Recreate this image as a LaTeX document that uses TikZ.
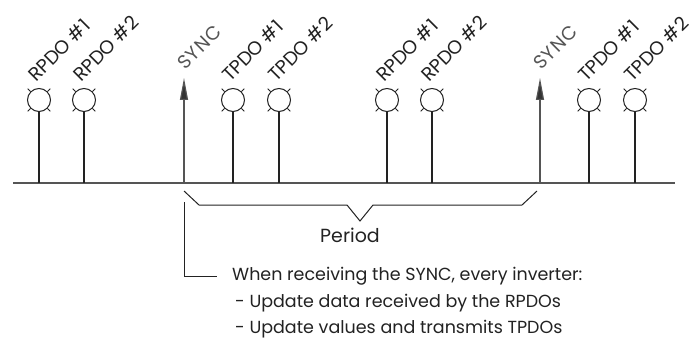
\documentclass[tikz,border=0pt]{standalone}
\usepackage{fontspec}
\setmainfont{Poppins}
\usetikzlibrary{arrows.meta}
\definecolor{ink}{HTML}{222222}
\definecolor{syncgray}{HTML}{555555}
\definecolor{basegray}{HTML}{555555}
\tikzset{
  pdo/.style={circle,draw=ink,line width=1pt,fill=white,minimum size=23pt,inner sep=0pt},
  stem/.style={draw=ink,line width=1.2pt},
  lbl/.style={rotate=45,anchor=base west,inner sep=0pt,text=ink,font=\fontsize{19}{19}\selectfont},
  synclbl/.style={rotate=45,anchor=base west,inner sep=0pt,text=syncgray,font=\fontsize{19}{19}\selectfont\addfontfeature{LetterSpace=6}},
  syncarrow/.style={draw=syncgray,line width=1.2pt,-{Triangle[length=22pt,width=8pt,fill=syncgray!60!black]}},
  body/.style={anchor=base west,inner sep=0pt,text=ink,font=\fontsize{17.5}{17.5}\selectfont},
  tick/.style={draw=ink,line width=0.8pt}
}
\newcommand{\pdoat}[3]{% name, x, label text
  \node[pdo] (#1) at (#2,100) {};
  \coordinate (#1b) at (#2,183);
  \draw[stem] (#1.south) -- (#1b);
  \foreach \a in {45,135,225,315}{\draw[tick] (#1.center) ++(\a:12) -- ++(\a:4);}
  \node[lbl] (#1l) at ([xshift=-3pt,yshift=17pt]#1.center) {#3};
}
\begin{document}
\begin{tikzpicture}[x=1pt,y=-1pt]
\useasboundingbox (0,0) rectangle (694,345);
% baseline
\coordinate (bl) at (13,183);
\coordinate (br) at (675,183);
\draw[basegray,line width=1.5pt] (bl) -- (br);
% PDOs
\pdoat{r1}{39}{RPDO \#1}
\pdoat{r2}{84}{RPDO \#2}
\pdoat{t1}{233}{TPDO \#1}
\pdoat{t2}{279}{TPDO \#2}
\pdoat{r3}{387}{RPDO \#1}
\pdoat{r4}{432}{RPDO \#2}
\pdoat{t3}{589}{TPDO \#1}
\pdoat{t4}{635}{TPDO \#2}
% SYNC arrows
\coordinate (s1b) at (184,183);
\coordinate (s1t) at (184,78);
\coordinate (s2b) at (540,183);
\coordinate (s2t) at (540,78);
\draw[syncarrow] (s1b) -- (s1t);
\draw[syncarrow] (s2b) -- (s2t);
\node[synclbl] (s1l) at (185,71) {SYNC};
\node[synclbl] (s2l) at (541,71) {SYNC};
% brace
\coordinate (p1) at (184,191);
\coordinate (p2) at (199,205);
\coordinate (p3) at (347,205);
\coordinate (p4) at (360,221);
\coordinate (p5) at (373,205);
\coordinate (p6) at (522,205);
\coordinate (p7) at (537,191);
\draw[ink,line width=1pt] (p1) -- (p2) -- (p3) -- (p4) -- (p5) -- (p6) -- (p7);
\node[body,anchor=base,font=\fontsize{19}{19}\selectfont] (period) at (350,242) {Period};
% L line and note
\coordinate (l1) at (184,202);
\coordinate (l2) at (184,276);
\coordinate (l3) at (217,276);
\draw[ink,line width=1pt] (l1) -- (l2) -- (l3);
\node[body] (n1) at (232,280) {When receiving the SYNC, every inverter:};
\node[body] (n2) at (235,307) {- Update data received by the RPDOs};
\node[body] (n3) at (235,333) {- Update values and transmits TPDOs};
\end{tikzpicture}
\end{document}
